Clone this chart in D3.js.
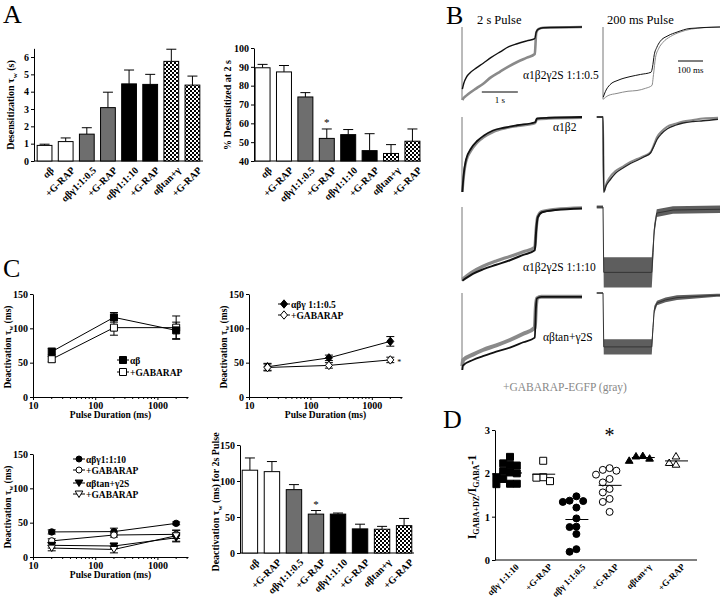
<!DOCTYPE html>
<html><head><meta charset="utf-8">
<script src="https://cdn.jsdelivr.net/npm/d3@7"></script>
<style>
body{margin:0;background:#fff}
svg{display:block}
</style>
</head><body>
<svg id="c" width="720" height="605"></svg>
<script>
// ---------------- DATA ----------------
const barCats = ["αβ","+G-RAP","αβγ1:1:0.5","+G-RAP","αβγ1:1:10","+G-RAP","αβtan+γ","+G-RAP"];
const desensTau    = [0.90,1.12,1.55,3.08,4.45,4.42,5.75,4.38];
const desensTauErr = [0.07,0.21,0.37,0.89,0.80,0.58,0.70,0.52];
const pctDesens    = [89.5,87.3,74.0,52.0,54.0,45.5,44.0,50.5];
const pctDesensErr = [1.8,3.4,2.3,5.0,2.7,9.0,4.7,6.5];
const deact2s      = [115,113,88,54,54,33.5,33,38];
const deact2sErr   = [17,14,7,5,1.5,6.5,4,10];
const aTicks = [0,1,2,3,4,5,6];
const pctTicks = [40,50,60,70,80,90,100];
const deactTicks = [0,50,100,150];
const logTicks = [10,100,1000];

const pulseDur = [20,200,2000];
const deactAB      = [66,116,97],  deactABErr   = [5,7,12];
const deactABG     = [55,101,101], deactABGErr  = [4,11,17];
const deactG05     = [44,57,81],   deactG05Err  = [5,4,7];
const deactG05G    = [43,46,54],   deactG05GErr = [5,4,4];
const deactG10     = [36.5,37,49], deactG10Err  = [3,5,2];
const deactG10G    = [23.5,32,33], deactG10GErr = [3,3,6];
const deactTan     = [17,16,28],   deactTanErr  = [4,4,6];
const deactTanG    = [13,11,31],   deactTanGErr = [4,5,8];

const dCats = ["αβγ 1:1:10","+G-RAP","αβγ 1:1:0.5","+G-RAP","αβtan+γ","+G-RAP"];
const potG10  = [2.38,2.23,2.19,2.18,2.05,2.02,2.00,1.91,1.87,1.76,1.76,1.75];
const potG10G = [2.29,1.91,1.90,1.82];
const potG05  = [1.47,1.37,1.36,1.34,1.21,0.96,0.77,0.76,0.60,0.25,0.19];
const potG05G = [2.12,2.08,2.06,1.97,1.87,1.79,1.64,1.56,1.41,1.34,1.11];
const potTan  = [2.41,2.40,2.35,2.30];
const potTanG = [2.40,2.21,2.25];
const dTicks = [0,1,2,3];

// Panel B traces: [time, normalized current (0 = baseline, 1 = peak)]
// left column time in s (2 s pulse), right column in ms (200 ms pulse)
const t05_2s_blk = [[0.01,0.85],[0.05,0.77],[0.12,0.69],[0.22,0.63],[0.4,0.56],[0.58,0.5],[0.8,0.42],[1.06,0.34],[1.3,0.27],[1.53,0.23],[1.8,0.19],[2.02,0.16],[2.06,0.07],[2.12,0.03],[2.25,0.01],[3.33,0]];
const t05_2s_gry = [[0.01,1.0],[0.05,0.97],[0.12,0.94],[0.22,0.9],[0.4,0.84],[0.58,0.78],[0.8,0.69],[1.06,0.61],[1.3,0.54],[1.53,0.48],[1.8,0.42],[2.02,0.37],[2.06,0.08],[2.12,0.03],[2.25,0.01],[3.33,0]];
const t05_200_blk = [[1,0.96],[10,0.88],[28,0.79],[60,0.73],[108,0.68],[150,0.65],[192,0.62],[198,0.55],[205,0.38],[215,0.28],[228,0.2],[260,0.12],[296,0.07],[348,0.02],[468,0]];
const t05_200_gry = [[1,0.99],[20,0.94],[56,0.91],[100,0.88],[136,0.87],[170,0.84],[196,0.8],[202,0.65],[210,0.42],[222,0.3],[240,0.21],[270,0.13],[308,0.07],[400,0.01],[468,0]];
const tab_2s_blk = [[0.01,1.0],[0.04,0.8],[0.11,0.57],[0.25,0.42],[0.42,0.32],[0.6,0.25],[0.86,0.18],[1.2,0.14],[1.53,0.11],[2.03,0.07],[2.08,0.02],[2.4,0.01],[3.33,0]];
const tab_2s_gry = [[0.01,1.0],[0.04,0.83],[0.11,0.6],[0.25,0.45],[0.42,0.34],[0.6,0.27],[0.86,0.2],[1.2,0.15],[1.53,0.12],[2.03,0.08],[2.08,0.03],[2.4,0.02],[3.33,0.01]];
const tab_200_blk = [[-25,0],[0,0],[3,1.0],[12,0.92],[28,0.84],[50,0.75],[80,0.68],[110,0.62],[136,0.58],[165,0.53],[190,0.48],[205,0.38],[216,0.30],[235,0.22],[256,0.16],[290,0.11],[320,0.08],[360,0.06],[400,0.05],[460,0.03]];
const tab_200_gry = [[-25,0],[0,0],[3,1.0],[12,0.9],[28,0.8],[50,0.72],[80,0.66],[110,0.6],[136,0.56],[165,0.52],[190,0.47],[205,0.36],[216,0.27],[235,0.19],[256,0.13],[290,0.09],[320,0.06],[360,0.04],[400,0.02],[460,0.01]];
const t10_2s_blk = [[0.01,0.97],[0.3,0.88],[0.58,0.82],[0.95,0.76],[1.33,0.7],[1.7,0.63],[2.02,0.57],[2.06,0.3],[2.1,0.14],[2.22,0.07],[2.6,0.04],[3.33,0.02]];
const t10_2s_gry = [[0.01,0.95],[0.3,0.85],[0.58,0.78],[0.95,0.71],[1.33,0.65],[1.7,0.59],[2.02,0.53],[2.06,0.28],[2.1,0.13],[2.22,0.06],[2.6,0.03],[3.33,0.01]];
// [time, current, noise half-width]
const t10_200_band = [[-25,0,0.02],[0,0,0.02],[3,0.86,0.2],[195,0.86,0.2],[200,0.6,0.15],[205,0.3,0.08],[215,0.08,0.05],[280,0.04,0.05],[468,0.03,0.05]];
const ttan_2s_blk = [[0.01,1.0],[0.03,0.94],[0.3,0.87],[0.58,0.82],[0.95,0.76],[1.33,0.71],[1.7,0.64],[2.02,0.58],[2.05,0.2],[2.08,0.07],[2.2,0.05],[3.33,0.05]];
const ttan_2s_gry = [[0.01,0.95],[0.03,0.87],[0.3,0.8],[0.58,0.74],[0.95,0.68],[1.33,0.61],[1.7,0.53],[2.02,0.45],[2.05,0.18],[2.08,0.07],[2.2,0.05],[3.33,0.05]];
const ttan_200_band = [[-25,0,0.01],[0,0,0.01],[3,0.70,0.1],[195,0.70,0.1],[200,0.45,0.08],[205,0.22,0.05],[216,0.13,0.03],[250,0.09,0.03],[296,0.06,0.03],[456,0.03,0.02],[468,0.03,0.02]];

// ---------------- DRAWING ----------------
const FONT = "'Liberation Serif','Times New Roman','DejaVu Serif',serif";
const fmtInt = d3.format("d");
const svg = d3.select("#c");
const defs = svg.append("defs");
const pat = defs.append("pattern").attr("id","chk").attr("width",4).attr("height",4).attr("patternUnits","userSpaceOnUse");
pat.append("rect").attr("width",4).attr("height",4).attr("fill","#fff");
pat.append("rect").attr("width",2).attr("height",2).attr("fill","#000");
pat.append("rect").attr("x",2).attr("y",2).attr("width",2).attr("height",2).attr("fill","#000");
const barFills = ["#fff","#fff","#6e6e6e","#6e6e6e","#000","#000","url(#chk)","url(#chk)"];
const BOLD = "bold";

function letter(t,x,y){ svg.append("text").attr("x",x).attr("y",y).attr("font-size",26).text(t); }
letter("A",3,23); letter("B",446,24); letter("C",3,277); letter("D",443,428);

function ylab(x,y,parts,size){
  const t = svg.append("text").attr("transform",`translate(${x},${y}) rotate(-90)`)
    .attr("text-anchor","middle").attr("font-size",size).attr("font-weight",BOLD);
  parts.forEach(p=>{
    const s = t.append("tspan").text(p.t);
    if(p.sub){ s.attr("font-size",size*0.7).attr("dy",size*0.25); }
    else if(p.back){ s.attr("dy",-size*0.25); }
  });
  return t;
}
function styleAxis(g,size){
  g.attr("font-family",null);
  g.selectAll("text").attr("font-size",size).attr("font-weight",BOLD).attr("fill","#000");
  g.selectAll("path,line").attr("stroke","#000");
}

function barChart(o){
  const y = d3.scaleLinear().domain(o.domain).range([o.yBot,o.yTop]);
  const x = d3.scaleBand().domain(d3.range(barCats.length)).range([o.x0,o.x1]).paddingInner(0.3).paddingOuter(o.pOut);
  const g = svg.append("g");
  const ax = g.append("g").attr("transform",`translate(${o.x0},0)`)
    .call(d3.axisLeft(y).tickValues(o.ticks).tickFormat(fmtInt).tickSize(3).tickPadding(2).tickSizeOuter(0));
  styleAxis(ax,10);
  g.append("line").attr("x1",o.x0).attr("x2",o.x1).attr("y1",o.yBot).attr("y2",o.yBot).attr("stroke","#000");
  const base = o.domain[0];
  o.vals.forEach((v,i)=>{
    const cx = x(i)+x.bandwidth()/2, ty = y(v+o.errs[i]);
    g.append("line").attr("x1",cx).attr("x2",cx).attr("y1",y(v)).attr("y2",ty).attr("stroke","#000");
    g.append("line").attr("x1",cx-5).attr("x2",cx+5).attr("y1",ty).attr("y2",ty).attr("stroke","#000");
    g.append("rect").attr("x",x(i)).attr("y",y(v)).attr("width",x.bandwidth()).attr("height",y(base)-y(v))
      .attr("fill",barFills[i]).attr("stroke","#000").attr("stroke-width",1);
    g.append("text").attr("transform",`translate(${cx+5},${o.yBot+5}) rotate(-45)`)
      .attr("text-anchor","end").attr("dy","0.7em").attr("font-size",o.lab||10).attr("font-weight",BOLD).text(barCats[i]);
  });
  if(o.star!=null){
    const i=o.star, cx=x(i)+x.bandwidth()/2;
    g.append("text").attr("x",cx).attr("y",y(o.vals[i]+o.errs[i])-3).attr("text-anchor","middle")
      .attr("font-size",11).text("*");
  }
}

barChart({x0:34,x1:203,yTop:161-6.5*17.33,yBot:161,domain:[0,6.5],ticks:aTicks,vals:desensTau,errs:desensTauErr,pOut:0.15});
ylab(14,105,[{t:"Desensitization τ"},{t:"w",sub:true},{t:" (s)",back:true}],10);
barChart({x0:254,x1:421,yTop:48,yBot:161,domain:[40,100],ticks:pctTicks,vals:pctDesens,errs:pctDesensErr,pOut:0.05,star:3});
ylab(231,105,[{t:"% Desensitized at 2 s"}],10);
barChart({x0:240,x1:414,yTop:445,yBot:553,domain:[0,150],ticks:deactTicks,vals:deact2s,errs:deact2sErr,pOut:0.1,star:3});
ylab(219,502,[{t:"Deactivation τ"},{t:"w",sub:true},{t:" (ms) for 2s Pulse",back:true}],10);

// marker paths
const MK = {
  square: s=>`M${-s},${-s}h${2*s}v${2*s}h${-2*s}Z`,
  diamond: s=>`M0,${-s*1.2}L${s},0L0,${s*1.2}L${-s},0Z`,
  circle: s=>`M${-s},0a${s},${s} 0 1,0 ${2*s},0a${s},${s} 0 1,0 ${-2*s},0Z`,
  triUp: s=>`M0,${-s}L${s*1.1},${s*0.85}L${-s*1.1},${s*0.85}Z`,
  triDown: s=>`M0,${s}L${s*1.1},${-s*0.85}L${-s*1.1},${-s*0.85}Z`
};

function lineChart(o){
  const x = d3.scaleLog().domain([10,3100]).range([o.x0,o.x1]);
  const y = d3.scaleLinear().domain([0,150]).range([o.y0,o.y0-103]);
  const g = svg.append("g");
  const ay = g.append("g").attr("transform",`translate(${o.x0},0)`)
    .call(d3.axisLeft(y).tickValues(deactTicks).tickFormat(fmtInt).tickSize(3).tickPadding(2).tickSizeOuter(0));
  styleAxis(ay,10);
  const ax = g.append("g").attr("transform",`translate(0,${o.y0})`)
    .call(d3.axisBottom(x).tickValues(logTicks).tickFormat(fmtInt).tickSize(3).tickPadding(2).tickSizeOuter(0));
  styleAxis(ax,10);
  const minor = [];
  [10,100,1000].forEach(d=>{ for(let k=2;k<10;k++){ if(d*k<3100) minor.push(d*k);} });
  g.selectAll(null).data(minor).enter().append("line").attr("x1",d=>x(d)).attr("x2",d=>x(d))
    .attr("y1",o.y0).attr("y2",o.y0+2).attr("stroke","#000");
  o.series.forEach(s=>{
    const line = d3.line().x((d,i)=>x(pulseDur[i])).y(d=>y(d));
    g.append("path").attr("d",line(s.v)).attr("fill","none").attr("stroke","#000").attr("stroke-width",1);
    s.v.forEach((v,i)=>{
      const cx=x(pulseDur[i]);
      g.append("line").attr("x1",cx).attr("x2",cx).attr("y1",y(v-s.e[i])).attr("y2",y(v+s.e[i])).attr("stroke","#000");
      [v-s.e[i],v+s.e[i]].forEach(w=>g.append("line").attr("x1",cx-4).attr("x2",cx+4).attr("y1",y(w)).attr("y2",y(w)).attr("stroke","#000"));
    });
  });
  o.series.forEach(s=>{
    s.v.forEach((v,i)=>{
      g.append("path").attr("transform",`translate(${x(pulseDur[i])},${y(v)})`).attr("d",MK[s.m](s.size||3.5))
        .attr("fill",s.fill).attr("stroke","#000").attr("stroke-width",1);
    });
  });
  o.legend.forEach((l,i)=>{
    const lx=o.lx, ly=o.ly+l.dy;
    g.append("line").attr("x1",lx-6).attr("x2",lx+6).attr("y1",ly).attr("y2",ly).attr("stroke","#000");
    g.append("path").attr("transform",`translate(${lx},${ly})`).attr("d",MK[l.m](l.size||3.5)).attr("fill",l.fill).attr("stroke","#000");
    g.append("text").attr("x",lx+7).attr("y",ly+3.5).attr("font-size",9.5).attr("font-weight",BOLD).text(l.t);
  });
  svg.append("text").attr("x",(o.x0+o.x1)/2).attr("y",o.y0+21).attr("text-anchor","middle")
    .attr("font-size",9.5).attr("font-weight",BOLD).text("Pulse Duration (ms)");
  ylab(o.x0-22,o.y0-50,[{t:"Deactivation τ"},{t:"w",sub:true},{t:" (ms)",back:true}],9.5);
  return {x,y};
}

lineChart({x0:33,x1:188,y0:397,
  series:[{v:deactABG,e:deactABGErr,m:"square",fill:"#fff"},{v:deactAB,e:deactABErr,m:"square",fill:"#000"}],
  lx:123,ly:360,legend:[{t:"αβ",m:"square",fill:"#000",dy:0},{t:"+GABARAP",m:"square",fill:"#fff",dy:12}]});
const tr = lineChart({x0:249,x1:402,y0:397,
  series:[{v:deactG05,e:deactG05Err,m:"diamond",fill:"#000"},{v:deactG05G,e:deactG05GErr,m:"diamond",fill:"#fff"}],
  lx:284,ly:304,legend:[{t:"αβγ 1:1:0.5",m:"diamond",fill:"#000",dy:0},{t:"+GABARAP",m:"diamond",fill:"#fff",dy:11}]});
svg.append("text").attr("x",tr.x(2000)+7).attr("y",tr.y(deactG05G[2])+5).attr("font-size",8).text("*");
lineChart({x0:33,x1:188,y0:557,
  series:[{v:deactG10,e:deactG10Err,m:"circle",fill:"#000",size:3.2},{v:deactG10G,e:deactG10GErr,m:"circle",fill:"#fff",size:3.2},
          {v:deactTan,e:deactTanErr,m:"triDown",fill:"#000"},{v:deactTanG,e:deactTanGErr,m:"triDown",fill:"#fff"}],
  lx:79,ly:459,legend:[{t:"αβγ1:1:10",m:"circle",fill:"#000",dy:0,size:3},{t:"+GABARAP",m:"circle",fill:"#fff",dy:11,size:3},
                       {t:"αβtan+γ2S",m:"triDown",fill:"#000",dy:24},{t:"+GABARAP",m:"triDown",fill:"#fff",dy:35}]});

// Panel D
(function(){
  const y = d3.scaleLinear().domain([0,3]).range([560,430]);
  const x = d3.scalePoint().domain(d3.range(dCats.length)).range([510,676]);
  const g = svg.append("g");
  const ay = g.append("g").attr("transform","translate(495,0)")
    .call(d3.axisLeft(y).tickValues(dTicks).tickFormat(fmtInt).tickSize(3).tickPadding(2).tickSizeOuter(0));
  styleAxis(ay,10.5);
  g.append("line").attr("x1",495).attr("x2",697).attr("y1",560).attr("y2",560).attr("stroke","#000");
  const groups = [potG10,potG10G,potG05,potG05G,potTan,potTanG];
  const mk = [["square","#000"],["square","#fff"],["circle","#000"],["circle","#fff"],["triUp","#000"],["triUp","#fff"]];
  groups.forEach((vals,ci)=>{
    const placed=[]; const d=6.8;
    vals.forEach(v=>{
      const py=y(v); let off=0;
      for(let k=0;k<20;k++){
        const cand = k===0?0:(k%2? -Math.ceil(k/2)*d : Math.ceil(k/2)*d);
        if(placed.every(p=>Math.hypot(p[0]-cand,p[1]-py)>=d)){off=cand;break;}
      }
      placed.push([off,py]);
      g.append("path").attr("transform",`translate(${x(ci)+off},${py})`).attr("d",MK[mk[ci][0]](3.5))
        .attr("fill",mk[ci][1]).attr("stroke","#000").attr("stroke-width",1);
    });
    const m = d3.mean(vals);
    g.append("line").attr("x1",x(ci)-11).attr("x2",x(ci)+12).attr("y1",y(m)).attr("y2",y(m)).attr("stroke","#000");
    g.append("text").attr("transform",`translate(${x(ci)+5},${563}) rotate(-45)`).attr("text-anchor","end")
      .attr("dy","0.7em").attr("font-size",9).attr("font-weight",BOLD).text(dCats[ci]);
  });
  g.append("text").attr("x",x(3)).attr("y",442).attr("text-anchor","middle").attr("font-size",20).text("*");
  const t = svg.append("text").attr("transform","translate(476,497) rotate(-90)").attr("text-anchor","middle")
    .attr("font-size",12).attr("font-weight",BOLD);
  t.append("tspan").text("I");
  t.append("tspan").text("GABA+DZ").attr("font-size",8).attr("dy",3);
  t.append("tspan").text("/I").attr("dy",-3);
  t.append("tspan").text("GABA").attr("font-size",8).attr("dy",3);
  t.append("tspan").text("-1").attr("dy",-3);
})();

// Panel B traces
(function(){
  const xL = d3.scaleLinear().domain([0,3.33]).range([462,582]);
  const xR = d3.scaleLinear().domain([0,468]).range([603,720]);
  const rows = [[27,100],[117,192],[207,283],[293,370]];
  const g = svg.append("g");
  function onset(data,xs,r){
    const y = d3.scaleLinear().domain([0,1]).range(rows[r]);
    const p = data[0];
    g.append("line").attr("x1",xs(0)).attr("x2",xs(0)).attr("y1",y(0)).attr("y2",y(p[1]))
      .attr("stroke","#777").attr("stroke-width",1);
  }
  function tr(data,xs,r,col,w){
    const y = d3.scaleLinear().domain([0,1]).range(rows[r]);
    g.append("path").attr("d",d3.line().curve(d3.curveMonotoneX).x(d=>xs(d[0])).y(d=>y(d[1]))(data))
      .attr("fill","none").attr("stroke",col).attr("stroke-width",w).attr("stroke-linejoin","round");
  }
  function band(data,xs,r,col){
    const y = d3.scaleLinear().domain([0,1]).range(rows[r]);
    g.append("path").attr("d",d3.area().x(d=>xs(d[0])).y0(d=>y(d[1]-d[2])).y1(d=>y(d[1]+d[2]))(data)).attr("fill",col);
    g.append("path").attr("d",d3.line().x(d=>xs(d[0])).y(d=>y(d[1]))(data)).attr("fill","none").attr("stroke","#333").attr("stroke-width",1);
  }
  onset(t05_2s_gry,xL,0); onset(t05_200_gry,xR,0); onset(tab_2s_gry,xL,1); onset(t10_2s_blk,xL,2); onset(ttan_2s_blk,xL,3);
  tr(t05_2s_gry,xL,0,"#8a8a8a",2.6); tr(t05_2s_blk,xL,0,"#111",1.4);
  tr(t05_200_gry,xR,0,"#8a8a8a",1); tr(t05_200_blk,xR,0,"#111",1);
  tr(tab_2s_gry,xL,1,"#8a8a8a",2.6); tr(tab_2s_blk,xL,1,"#111",1.8);
  tr(tab_200_gry,xR,1,"#8a8a8a",2); tr(tab_200_blk,xR,1,"#222",1.3);
  tr(t10_2s_gry,xL,2,"#8a8a8a",3.2); tr(t10_2s_blk,xL,2,"#111",2);
  band(t10_200_band,xR,2,"#5e5e5e");
  tr(ttan_2s_gry,xL,3,"#8a8a8a",4); tr(ttan_2s_blk,xL,3,"#111",1.8);
  band(ttan_200_band,xR,3,"#5e5e5e");
  g.append("line").attr("x1",xL(0.55)).attr("x2",xL(1.55)).attr("y1",92).attr("y2",92).attr("stroke","#000");
  g.append("text").attr("x",xL(1.05)).attr("y",103).attr("text-anchor","middle").attr("font-size",9).text("1 s");
  g.append("line").attr("x1",xR(300)).attr("x2",xR(400)).attr("y1",61).attr("y2",61).attr("stroke","#000");
  g.append("text").attr("x",xR(350)).attr("y",73).attr("text-anchor","middle").attr("font-size",9).text("100 ms");
  const lab=(t,x,y,fs,col)=>g.append("text").attr("x",x).attr("y",y).attr("font-size",fs).attr("fill",col||"#000").text(t);
  lab("2 s Pulse",477,24,12.5); lab("200 ms Pulse",607,24,12.5);
  lab("α1β2γ2S 1:1:0.5",523,79,11.5);
  lab("α1β2",553,131,11.5);
  lab("α1β2γ2S 1:1:10",523,271,11.5);
  lab("αβtan+γ2S",543,341,11.5);
  lab("+GABARAP-EGFP (gray)",503,391,11.5,"#888");
})();

svg.selectAll("text").attr("font-family",FONT).style("font-family",FONT);
</script>
</body></html>
